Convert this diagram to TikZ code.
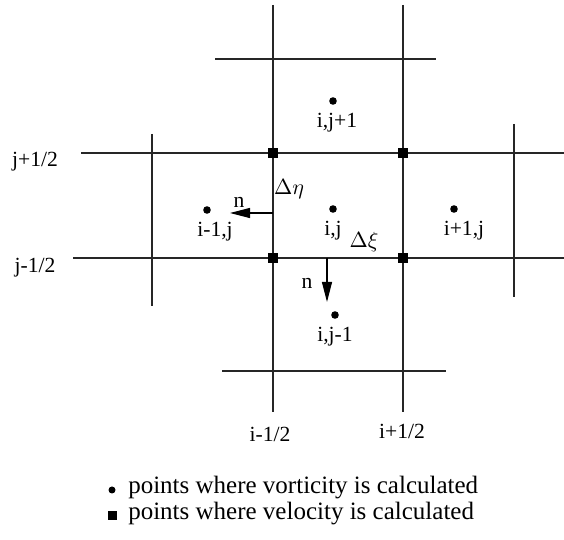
\documentclass[tikz,border=0pt]{standalone}
\usepackage{fontspec}
\setmainfont{Liberation Serif}
\usepackage{tikz}
\usetikzlibrary{arrows.meta, positioning}

\begin{document}
\begin{tikzpicture}[x=0.5pt, y=-0.5pt]
\tikzstyle{gridline} = [draw=black!85, line width=0.55pt]
\tikzstyle{vort} = [circle, fill=black, inner sep=0pt, minimum size=3.8pt]
\tikzstyle{vel} = [rectangle, fill=black, inner sep=0pt, minimum size=5pt]
\tikzstyle{lbl} = [inner sep=0pt, font=\fontsize{10.8}{12}\selectfont]
\tikzstyle{legend} = [inner sep=0pt, font=\fontsize{12.5}{15}\selectfont]
\tikzstyle{normal} = [line width=0.55pt, -{Triangle[length=10pt, width=5pt]}]

\useasboundingbox (0,0) rectangle (564,540);

% cell faces
\draw [gridline] (273,5) -- (273,412);
\draw [gridline] (403,5) -- (403,412);
\draw [gridline] (152,134) -- (152,306);
\draw [gridline] (514,124) -- (514,297);
\draw [gridline] (81,153) -- (564,153);
\draw [gridline] (73,258) -- (564,258);
\draw [gridline] (215,59) -- (436,59);
\draw [gridline] (222,371) -- (446,371);

% velocity points
\node (vsw) [vel] at (273,258) {};
\node (vse) [vel] at (403,258) {};
\node (vnw) [vel] at (273,153) {};
\node (vne) [vel] at (403,153) {};

% vorticity points
\node (cij) [vort] at (333,209) {};
\node (cn) [vort] at (333,101) {};
\node (cs) [vort] at (335,315) {};
\node (cw) [vort] at (207,210) {};
\node (ce) [vort] at (454,209) {};

\node (lij) [lbl, below=4pt of cij] {i,j};
\node (ln) [lbl, below=4pt of cn, xshift=2pt] {i,j+1};
\node (ls) [lbl, below=4pt of cs] {i,j-1};
\node (lw) [lbl, below=4pt of cw, xshift=4pt] {i-1,j};
\node (le) [lbl, below=4pt of ce, xshift=5pt] {i+1,j};

% normals
\coordinate (wface) at (273,213);
\coordinate (wtip) at (230,213);
\coordinate (sface) at (327,258);
\coordinate (stip) at (327,302);
\draw [normal] (wface) -- (wtip);
\draw [normal] (sface) -- (stip);
\node (nw) [lbl] at (239,202) {n};
\node (ns) [lbl] at (307,283) {n};
\node (deta) [lbl] at (289,189) {$\Delta\eta$};
\node (dxi) [lbl] at (364,242) {$\Delta\xi$};

% face indices
\node (jp) [lbl] at (35,162) {j+1/2};
\node (jm) [lbl] at (35,268) {j-1/2};
\node (im) [lbl] at (270,434) {i-1/2};
\node (ip) [lbl] at (402,431) {i+1/2};

% legend
\node (kv) [vort, minimum size=3.5pt] at (112,490) {};
\node (tv) [legend, right=6pt of kv, yshift=1pt] {points where vorticity is calculated};
\node (ku) [vel, minimum size=4.5pt] at (112,516) {};
\node (tu) [legend, right=5.5pt of ku, yshift=1pt] {points where velocity is calculated};

\end{tikzpicture}
\end{document}
